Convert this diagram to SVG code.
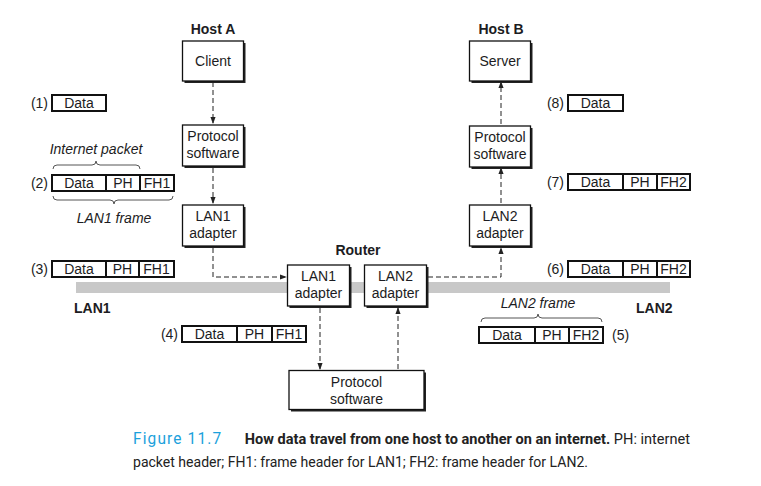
<svg xmlns="http://www.w3.org/2000/svg" width="761" height="486" viewBox="0 0 761 486">
  <style>
    .t { font-family: "Liberation Sans", Arial, sans-serif; font-size: 14px; fill: #1c1c22; }
    .c { text-anchor: middle; }
    .r { text-anchor: end; }
    .b { font-weight: bold; }
    .i { font-style: italic; }
    .shadow { fill: #222; }
    .node { fill: #fff; stroke: #111; stroke-width: 1.3; }
    .pkt { fill: #fff; stroke: #111; stroke-width: 2; }
    .div { stroke: #111; stroke-width: 2; }
    .wire { fill: none; stroke: #222; stroke-width: 1; stroke-dasharray: 5 3; }
    .brace { fill: none; stroke: #555; stroke-width: 1; }
    .cap { font-family: Roboto, "Open Sans", sans-serif; font-size: 15.5px; fill: #222; }
  </style>
  <defs>
    <marker id="arr" viewBox="0 0 8 8" refX="7" refY="4" markerWidth="7" markerHeight="7" markerUnits="userSpaceOnUse" orient="auto">
      <path d="M0,1 L8,4 L0,7 Z" fill="#222"/>
    </marker>
  </defs>

  <!-- LAN backbone -->
  <rect x="76" y="282" width="594" height="11" fill="#c8c8c8"/>

  <!-- connectors -->
  <g id="connectors">
    <line class="wire" x1="213" y1="82" x2="213" y2="123" marker-end="url(#arr)"/>
    <line class="wire" x1="213" y1="168" x2="213" y2="203" marker-end="url(#arr)"/>
    <polyline class="wire" points="213,248 213,277 286,277" marker-end="url(#arr)"/>
    <line class="wire" x1="320" y1="308" x2="320" y2="369" marker-end="url(#arr)"/>
    <line class="wire" x1="398" y1="369" x2="398" y2="308" marker-end="url(#arr)"/>
    <polyline class="wire" points="428,277 501,277 501,248" marker-end="url(#arr)"/>
    <line class="wire" x1="501" y1="203" x2="501" y2="168" marker-end="url(#arr)"/>
    <line class="wire" x1="501" y1="124" x2="501" y2="82" marker-end="url(#arr)"/>
  </g>

  <!-- Host A -->
  <text class="t b c" x="213" y="34">Host A</text>
  <g id="client">
    <rect class="shadow" x="184.5" y="43" width="61" height="40"/>
    <rect class="node" x="182.5" y="41" width="61" height="40"/>
    <text class="t c" x="213" y="66">Client</text>
  </g>
  <g id="protoA">
    <rect class="shadow" x="184.5" y="127" width="61" height="41"/>
    <rect class="node" x="182.5" y="125" width="61" height="41"/>
    <text class="t c" x="213" y="141">Protocol</text>
    <text class="t c" x="213" y="158">software</text>
  </g>
  <g id="lan1A">
    <rect class="shadow" x="184.5" y="207" width="61" height="41"/>
    <rect class="node" x="182.5" y="205" width="61" height="41"/>
    <text class="t c" x="213" y="221">LAN1</text>
    <text class="t c" x="213" y="238">adapter</text>
  </g>

  <!-- Host B -->
  <text class="t b c" x="501" y="34">Host B</text>
  <g id="server">
    <rect class="shadow" x="471.5" y="43" width="61" height="40"/>
    <rect class="node" x="469.5" y="41" width="61" height="40"/>
    <text class="t c" x="500" y="66">Server</text>
  </g>
  <g id="protoB">
    <rect class="shadow" x="471.5" y="128" width="61" height="41"/>
    <rect class="node" x="469.5" y="126" width="61" height="41"/>
    <text class="t c" x="500" y="142">Protocol</text>
    <text class="t c" x="500" y="159">software</text>
  </g>
  <g id="lan2B">
    <rect class="shadow" x="471.5" y="207" width="61" height="41"/>
    <rect class="node" x="469.5" y="205" width="61" height="41"/>
    <text class="t c" x="500" y="221">LAN2</text>
    <text class="t c" x="500" y="238">adapter</text>
  </g>

  <!-- Router -->
  <text class="t b c" x="358" y="255">Router</text>
  <g id="routerLan1">
    <rect class="shadow" x="289.5" y="267" width="62" height="41"/>
    <rect class="node" x="287.5" y="265" width="62" height="41"/>
    <text class="t c" x="318.5" y="281">LAN1</text>
    <text class="t c" x="318.5" y="298">adapter</text>
  </g>
  <g id="routerLan2">
    <rect class="shadow" x="366.5" y="267" width="62" height="41"/>
    <rect class="node" x="364.5" y="265" width="62" height="41"/>
    <text class="t c" x="395.5" y="281">LAN2</text>
    <text class="t c" x="395.5" y="298">adapter</text>
  </g>
  <g id="routerProto">
    <rect class="shadow" x="291" y="372.5" width="135" height="39"/>
    <rect class="node" x="289" y="370.5" width="135" height="39"/>
    <text class="t c" x="356.5" y="387">Protocol</text>
    <text class="t c" x="356.5" y="404">software</text>
  </g>

  <!-- LAN names -->
  <text class="t b" x="74" y="313">LAN1</text>
  <text class="t b" x="636" y="313">LAN2</text>

  <!-- (1) -->
  <g id="pkt1">
    <text class="t r" x="48" y="108">(1)</text>
    <rect class="pkt" x="52" y="95" width="54" height="16"/>
    <text class="t c" x="79" y="108">Data</text>
  </g>

  <!-- (2) with braces -->
  <g id="pkt2">
    <text class="t i c" x="96" y="154">Internet packet</text>
    <path class="brace" d="M53,169 Q53,165 57,165 L92,165 Q96,165 96,161 Q96,165 100,165 L136,165 Q140,165 140,169"/>
    <text class="t r" x="48" y="188">(2)</text>
    <rect class="pkt" x="52" y="175" width="122" height="16"/>
    <line class="div" x1="106" y1="175" x2="106" y2="191"/>
    <line class="div" x1="140" y1="175" x2="140" y2="191"/>
    <text class="t c" x="79" y="188">Data</text>
    <text class="t c" x="123" y="188">PH</text>
    <text class="t c" x="157" y="188">FH1</text>
    <path class="brace" d="M53,196 Q53,200 57,200 L110,200 Q114,200 114,204 Q114,200 118,200 L169,200 Q173,200 173,196"/>
    <text class="t i c" x="114" y="223">LAN1 frame</text>
  </g>

  <!-- (3) -->
  <g id="pkt3">
    <text class="t r" x="48" y="274">(3)</text>
    <rect class="pkt" x="52" y="261" width="122" height="16"/>
    <line class="div" x1="106" y1="261" x2="106" y2="277"/>
    <line class="div" x1="139" y1="261" x2="139" y2="277"/>
    <text class="t c" x="79" y="274">Data</text>
    <text class="t c" x="122.5" y="274">PH</text>
    <text class="t c" x="156.5" y="274">FH1</text>
  </g>

  <!-- (4) -->
  <g id="pkt4">
    <text class="t r" x="178" y="339">(4)</text>
    <rect class="pkt" x="182" y="326" width="124" height="16"/>
    <line class="div" x1="237" y1="326" x2="237" y2="342"/>
    <line class="div" x1="272" y1="326" x2="272" y2="342"/>
    <text class="t c" x="209.5" y="339">Data</text>
    <text class="t c" x="254.5" y="339">PH</text>
    <text class="t c" x="289" y="339">FH1</text>
  </g>

  <!-- (5) with brace -->
  <g id="pkt5">
    <text class="t i c" x="538" y="308">LAN2 frame</text>
    <path class="brace" d="M481,322 Q481,318 485,318 L534,318 Q538,318 538,314 Q538,318 542,318 L598,318 Q602,318 602,322"/>
    <rect class="pkt" x="479" y="327" width="124" height="16"/>
    <line class="div" x1="535" y1="327" x2="535" y2="343"/>
    <line class="div" x1="569" y1="327" x2="569" y2="343"/>
    <text class="t c" x="507" y="340">Data</text>
    <text class="t c" x="552" y="340">PH</text>
    <text class="t c" x="586" y="340">FH2</text>
    <text class="t" x="612" y="340">(5)</text>
  </g>

  <!-- (6) -->
  <g id="pkt6">
    <text class="t r" x="564" y="274">(6)</text>
    <rect class="pkt" x="568" y="261" width="122" height="16"/>
    <line class="div" x1="623" y1="261" x2="623" y2="277"/>
    <line class="div" x1="657" y1="261" x2="657" y2="277"/>
    <text class="t c" x="595.5" y="274">Data</text>
    <text class="t c" x="640" y="274">PH</text>
    <text class="t c" x="673.5" y="274">FH2</text>
  </g>

  <!-- (7) -->
  <g id="pkt7">
    <text class="t r" x="564" y="187">(7)</text>
    <rect class="pkt" x="568" y="174" width="122" height="16"/>
    <line class="div" x1="623" y1="174" x2="623" y2="190"/>
    <line class="div" x1="657" y1="174" x2="657" y2="190"/>
    <text class="t c" x="595.5" y="187">Data</text>
    <text class="t c" x="640" y="187">PH</text>
    <text class="t c" x="673.5" y="187">FH2</text>
  </g>

  <!-- (8) -->
  <g id="pkt8">
    <text class="t r" x="564" y="108">(8)</text>
    <rect class="pkt" x="568" y="95" width="55" height="16"/>
    <text class="t c" x="595.5" y="108">Data</text>
  </g>

  <!-- caption -->
  <text class="cap" x="133" y="444" textLength="557" lengthAdjust="spacingAndGlyphs"><tspan style="fill:#1ba1dc" font-size="16.5" letter-spacing="1.2">Figure 11.7</tspan><tspan dx="24" font-weight="bold">How data travel from one host to another on an internet.</tspan> PH: internet</text>
  <text class="cap" x="133" y="467" textLength="455" lengthAdjust="spacingAndGlyphs">packet header; FH1: frame header for LAN1; FH2: frame header for LAN2.</text>
</svg>
